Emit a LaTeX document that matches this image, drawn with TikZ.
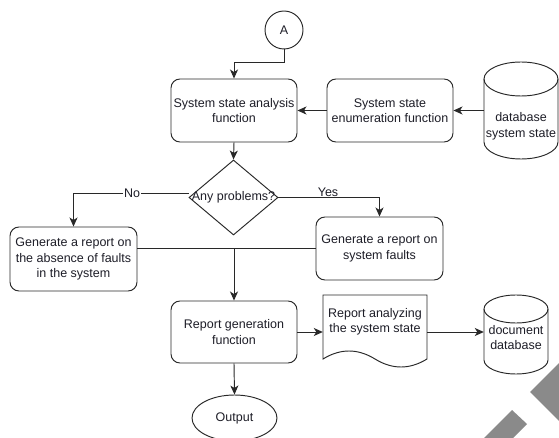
\documentclass[tikz,border=0pt]{standalone}
\usepackage{fontspec}
\setmainfont{Liberation Sans}
\usetikzlibrary{shapes.geometric,arrows.meta}
\definecolor{ln}{RGB}{40,40,40}
\definecolor{wm}{RGB}{138,138,138}
\definecolor{tx}{RGB}{30,30,40}
\begin{document}
\begin{tikzpicture}[x=1pt,y=-1pt,
  every node/.style={font=\fontsize{12.5}{15.5}\selectfont, text=tx, align=center, inner sep=0pt},
  shp/.style={draw=ln, line width=0.95pt},
  proc/.style={shp, rounded corners=9pt, minimum width=126pt, minimum height=63pt},
  conn/.style={draw=ln, line width=0.95pt},
  arr/.style={conn, -{Stealth[length=9pt,width=8pt,inset=2.5pt]}},
  lbl/.style={fill=white, inner sep=0.6pt}
]
\useasboundingbox (0,0) rectangle (559,438);
\fill[white] (0,0) rectangle (559,438);

% watermark
\begin{scope}
  \clip (0,0) rectangle (559,438);
  \fill[wm] (530,392) -- (570,352) -- (620,402) -- (580,442) -- cycle;
  \fill[wm] (512,410) -- (527,424) -- (490,461) -- (475,447) -- cycle;
\end{scope}

% nodes
\node[shp, circle, minimum size=38pt] (A) at (284,30) {A};
\node[proc] (b1) at (234,110.5) {System state analysis\\function};
\node[proc] (b2) at (390,110.5) {System state\\enumeration function};

\node[minimum width=74pt, minimum height=97pt] (c1) at (521,110.5) {};
\draw[shp] (484,79) -- (484,142) arc[start angle=180,end angle=360,x radius=37pt,y radius=17pt] -- (558,79);
\draw[shp] (521,79) ellipse[x radius=37pt, y radius=17pt];
\node (c1t) at (521,126.5) {database\\system state};

\node[shp, diamond, minimum width=89pt, minimum height=75pt] (d) at (233.5,197.5) {\makebox[0pt]{Any problems?}};

\node[proc, minimum width=127pt, minimum height=64pt] (b3) at (73.5,259) {Generate a report on\\the absence of faults\\in the system};
\node[proc, minimum width=127pt] (b4) at (379.5,248.5) {Generate a report on\\system faults};
\node[proc, minimum height=62pt] (b5) at (234,332) {Report generation\\function};

\node[minimum width=104pt, minimum height=74pt] (doc) at (375,332) {};
\draw[shp] (323,295) -- (427,295) -- (427,359)
  .. controls (409.67,369.67) and (392.33,369.67) .. (375,359)
  .. controls (357.67,348.33) and (340.33,348.33) .. (323,359) -- cycle;
\node (doct) at (375,322) {Report analyzing\\the system state};

\node[minimum width=64pt, minimum height=79pt] (c2) at (516,334.5) {};
\draw[shp] (484,309) -- (484,360) arc[start angle=180,end angle=360,x radius=32pt,y radius=14pt] -- (548,309);
\draw[shp] (516,309) ellipse[x radius=32pt, y radius=14pt];
\node (c2t) at (516,337.5) {document\\database};

\node[shp, ellipse, minimum width=85pt, minimum height=46pt] (out) at (234.5,418) {Output};

% connectors
\draw[arr] (A.south) -- ++(0,13) -| (b1.north);
\draw[arr] (c1.west) -- (b2.east);
\draw[arr] (b2.west) -- (b1.east);
\draw[arr] (b1.south) -- (d.north);
\draw[arr] ([yshift=4.5pt]d.west) -| (b3.north);
\node[lbl] (no) at (132,193) {No};
\draw[arr] (d.east) -| (b4.north);
\node[lbl] (yes) at (328,192.5) {Yes};
\draw[conn] (b3.east |- b4.west) -- (b4.west);
\coordinate (m) at (b4.west -| b5.north);
\draw[arr] (m) -- (b5.north);
\draw[arr] (b5.east) -- (doc.west);
\draw[arr] (doc.east) -- (doc.east -| c2.west);
\draw[arr] (b5.south) -- (out.north);
\end{tikzpicture}
\end{document}
